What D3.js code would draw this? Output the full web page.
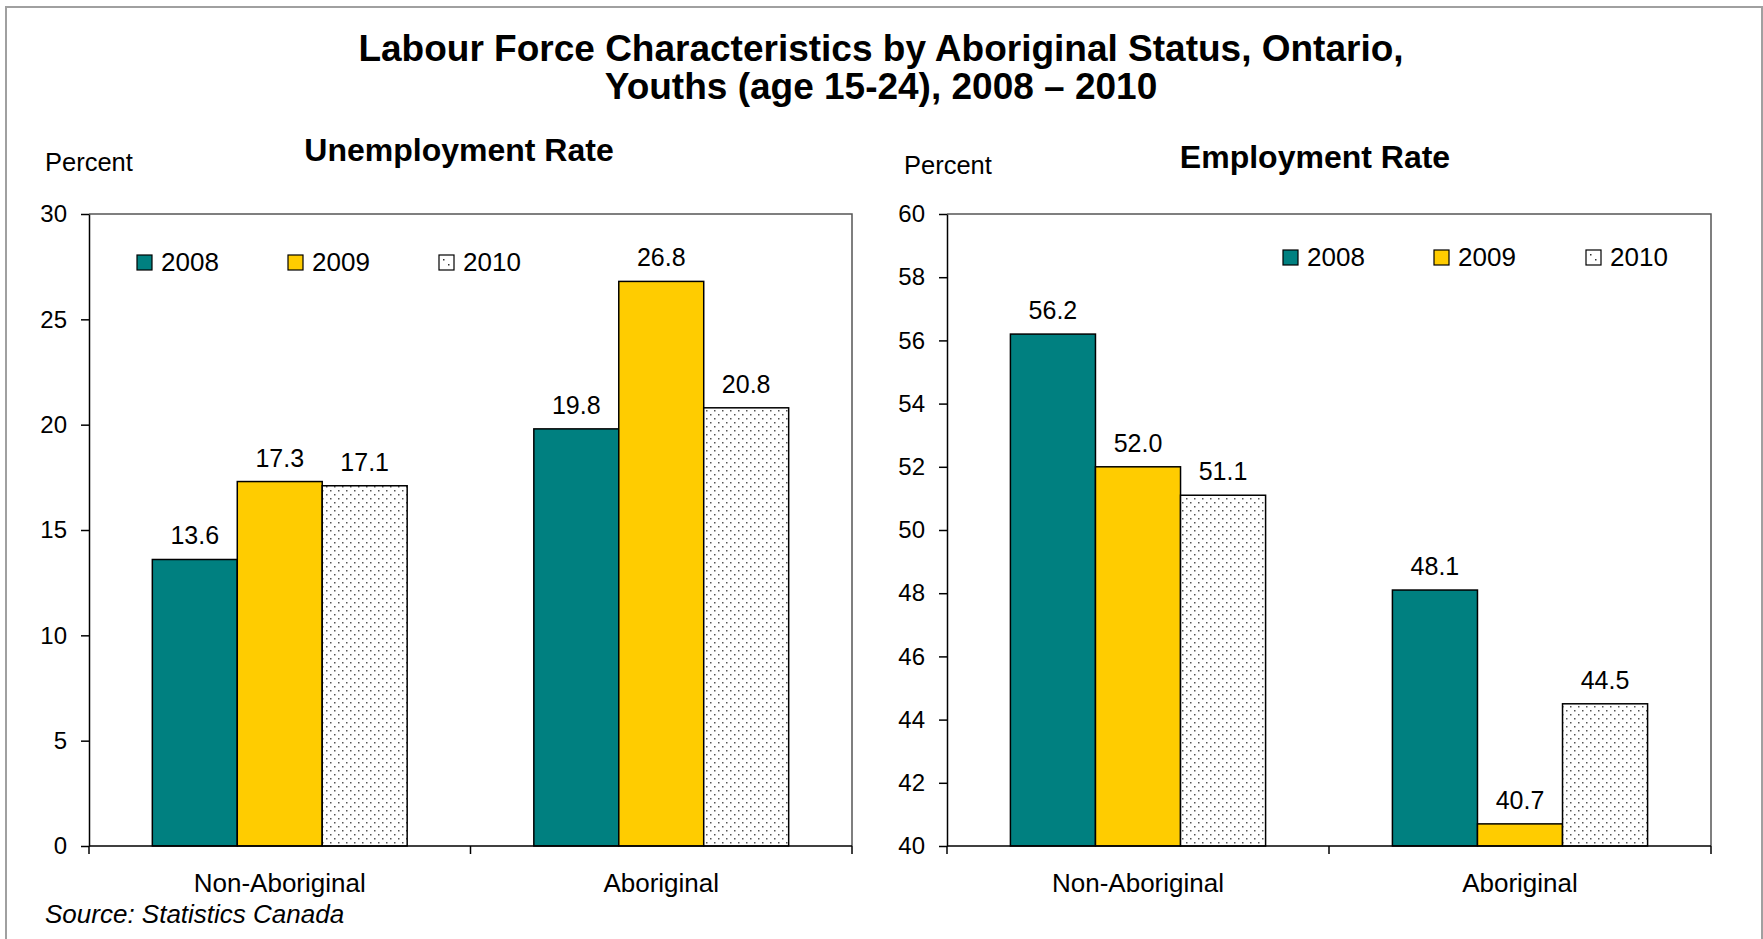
<!DOCTYPE html>
<html><head><meta charset="utf-8">
<script src="https://cdn.jsdelivr.net/npm/d3@7"></script>
<style>
html,body{margin:0;padding:0;background:#fff;}
svg text{font-family:"Liberation Sans",Arial,sans-serif;fill:#000;}
</style></head>
<body>
<svg id="chart" width="1763" height="939"></svg>
<script>
const titleLines = ["Labour Force Characteristics by Aboriginal Status, Ontario,", "Youths (age 15-24), 2008 \u2013 2010"];
const categories = ["Non-Aboriginal", "Aboriginal"];
const years = ["2008", "2009", "2010"];
const unemployment = {"2008": [13.6, 19.8], "2009": [17.3, 26.8], "2010": [17.1, 20.8]};
const employment = {"2008": [56.2, 48.1], "2009": [52.0, 40.7], "2010": [51.1, 44.5]};
const unempTicks = [0, 5, 10, 15, 20, 25, 30];
const empTicks = [40, 42, 44, 46, 48, 50, 52, 54, 56, 58, 60];
const sourceText = "Source: Statistics Canada";

const colors = {"2008": "#008080", "2009": "#FFCC00", "2010": "url(#dots)"};

const svg = d3.select("#chart");
const defs = svg.append("defs");
const pat = defs.append("pattern").attr("id", "dots").attr("patternUnits", "userSpaceOnUse")
  .attr("width", 8).attr("height", 8);
pat.append("rect").attr("width", 8).attr("height", 8).attr("fill", "#fff");
pat.append("rect").attr("x", 2).attr("y", 2).attr("width", 1.5).attr("height", 1.5).attr("fill", "#555");
pat.append("rect").attr("x", 6).attr("y", 6).attr("width", 1.5).attr("height", 1.5).attr("fill", "#555");

// outer border
svg.append("rect").attr("x", 6).attr("y", 7).attr("width", 1756).attr("height", 950)
  .attr("fill", "none").attr("stroke", "#a0a0a0").attr("stroke-width", 2);

// title
svg.append("text").attr("x", 881).attr("y", 61).attr("text-anchor", "middle")
  .attr("font-size", 37).attr("font-weight", "bold").text(titleLines[0]);
svg.append("text").attr("x", 881).attr("y", 99).attr("text-anchor", "middle")
  .attr("font-size", 37).attr("font-weight", "bold").text(titleLines[1]);

function panel(cfg) {
  const g = svg.append("g");
  const x0 = d3.scaleBand().domain(categories).range([cfg.left, cfg.right]).padding(0);
  const x1 = d3.scaleBand().domain(years).range([x0.bandwidth() * 0.166, x0.bandwidth() * 0.834]).padding(0);
  const y = d3.scaleLinear().domain(cfg.domain).range([cfg.bottom, cfg.top]);

  g.append("path").attr("d", `M${cfg.left},${cfg.top}H${cfg.right}V${cfg.bottom}`)
    .attr("fill", "none").attr("stroke", "#555").attr("stroke-width", 1.5);

  years.forEach(yr => {
    g.selectAll(null).data(categories).enter().append("rect")
      .attr("x", c => x0(c) + x1(yr))
      .attr("y", (c, i) => y(cfg.data[yr][i]))
      .attr("width", x1.bandwidth())
      .attr("height", (c, i) => cfg.bottom - y(cfg.data[yr][i]))
      .attr("fill", colors[yr]).attr("stroke", "#000").attr("stroke-width", 1.5);
    g.selectAll(null).data(categories).enter().append("text")
      .attr("x", c => x0(c) + x1(yr) + x1.bandwidth() / 2)
      .attr("y", (c, i) => y(cfg.data[yr][i]) - 15)
      .attr("text-anchor", "middle").attr("font-size", 25)
      .text((c, i) => cfg.data[yr][i].toFixed(1));
  });

  const yAxis = d3.axisLeft(y).tickValues(cfg.ticks).tickSize(8).tickPadding(14).tickSizeOuter(0);
  const ya = g.append("g").attr("transform", `translate(${cfg.left},0)`).call(yAxis);
  ya.select(".domain").attr("stroke", "#000").attr("stroke-width", 1.5);
  ya.selectAll(".tick line").attr("stroke", "#000").attr("stroke-width", 1.5);
  ya.selectAll(".tick text").attr("font-size", 24).attr("font-family", "Liberation Sans, Arial, sans-serif").attr("fill", "#000");

  const bounds = [cfg.left, ...categories.slice(1).map(c => x0(c)), cfg.right];
  g.append("line").attr("x1", cfg.left).attr("x2", cfg.right).attr("y1", cfg.bottom).attr("y2", cfg.bottom)
    .attr("stroke", "#000").attr("stroke-width", 1.5);
  g.selectAll(null).data(bounds).enter().append("line")
    .attr("x1", d => d).attr("x2", d => d).attr("y1", cfg.bottom).attr("y2", cfg.bottom + 8)
    .attr("stroke", "#000").attr("stroke-width", 1.5);
  g.selectAll(null).data(categories).enter().append("text")
    .attr("x", c => x0(c) + x0.bandwidth() / 2).attr("y", 892)
    .attr("text-anchor", "middle").attr("font-size", 26).text(c => c);

  g.append("text").attr("x", cfg.subX).attr("y", cfg.subY).attr("text-anchor", "middle")
    .attr("font-size", 32).attr("font-weight", "bold").text(cfg.subtitle);
  g.append("text").attr("x", cfg.pctX).attr("y", cfg.pctY).attr("font-size", 25.5).text("Percent");

  years.forEach((yr, i) => {
    g.append("rect").attr("x", cfg.legX[i]).attr("y", cfg.legY - 16).attr("width", 15).attr("height", 15)
      .attr("fill", yr === "2010" ? "#fff" : colors[yr]).attr("stroke", "#000").attr("stroke-width", 1.2);
    if (yr === "2010") {
      g.append("rect").attr("x", cfg.legX[i] + 4).attr("y", cfg.legY - 12).attr("width", 1.5).attr("height", 1.5).attr("fill", "#333");
      g.append("rect").attr("x", cfg.legX[i] + 9).attr("y", cfg.legY - 7).attr("width", 1.5).attr("height", 1.5).attr("fill", "#333");
    }
    g.append("text").attr("x", cfg.legX[i] + 24).attr("y", cfg.legY).attr("font-size", 26).text(yr);
  });
}

panel({left: 89, right: 852, top: 214, bottom: 846, domain: [0, 30], ticks: unempTicks, data: unemployment,
  subtitle: "Unemployment Rate", subX: 459, subY: 161, pctX: 45, pctY: 171,
  legX: [137, 288, 439], legY: 271});
panel({left: 947, right: 1711, top: 214, bottom: 846, domain: [40, 60], ticks: empTicks, data: employment,
  subtitle: "Employment Rate", subX: 1315, subY: 168, pctX: 904, pctY: 174,
  legX: [1283, 1434, 1586], legY: 266});

svg.append("text").attr("x", 45).attr("y", 923).attr("font-size", 26).attr("font-style", "italic").text(sourceText);
</script>
</body></html>
